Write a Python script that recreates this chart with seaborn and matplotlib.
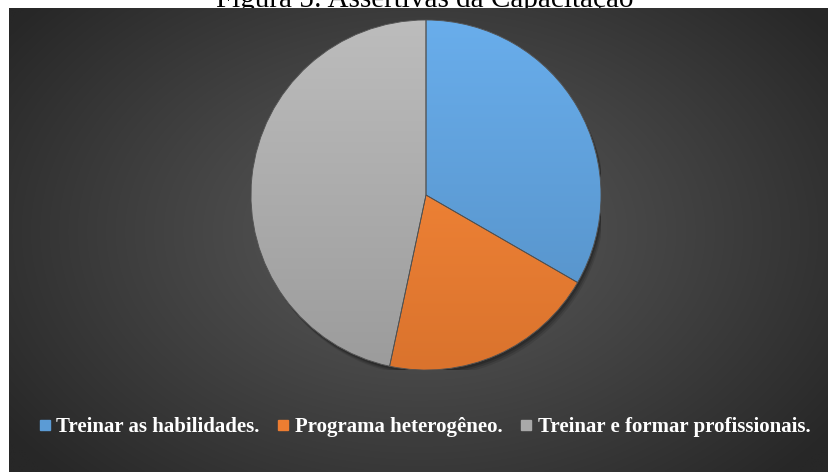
import numpy as np
import matplotlib
matplotlib.use("Agg")
import matplotlib.pyplot as plt
import seaborn as sns
from matplotlib.lines import Line2D
from matplotlib.patches import Circle, Wedge

# ---- data ----
categories = ["Treinar as habilidades.", "Programa heterogêneo.", "Treinar e formar profissionais."]
values = [5, 3, 7]
title = "Figura 5: Assertivas da Capacitação"

sns.set_style("white")
colors = sns.color_palette(["#5B9BD5", "#ED7D31", "#A9A9A9"])

W, H = 829, 472
fig = plt.figure(figsize=(W / 100, H / 100), dpi=100)
fig.patch.set_facecolor("white")

# title (partially hidden behind panel, like the reference)
fig.text(425 / W, 1 - 7 / H, title, ha="center", va="baseline",
         fontsize=21, family="Liberation Serif", color="black", zorder=-1)

# dark radial-gradient panel
bg = fig.add_axes([9 / W, 0, 1 - 9 / W, 1 - 8 / H])
bg.set_axis_off()
ny, nx = 200, 360
yy, xx = np.mgrid[0:ny, 0:nx]
cx, cy = nx * 0.5, ny * 0.48
r = np.sqrt(((xx - cx) / (nx * 0.62)) ** 2 + ((yy - cy) / (ny * 0.75)) ** 2)
r = np.clip(r, 0, 1)
inner, outer = 0x5a / 255, 0x27 / 255
val = inner + (outer - inner) * r ** 1.1
img = np.dstack([val, val, val])
bg.imshow(img, extent=[0, 1, 0, 1], aspect="auto", interpolation="bilinear")
bg.set_xlim(0, 1)
bg.set_ylim(0, 1)

# pie axes
cxp, cyp, rad = 426, 195, 175
ax = fig.add_axes([(cxp - rad) / W, 1 - (cyp + rad) / H, 2 * rad / W, 2 * rad / H])
ax.set_axis_off()
ax.patch.set_alpha(0)

# soft shadow
for off, a in [(0.035, 0.10), (0.025, 0.15), (0.015, 0.2)]:
    ax.add_patch(Circle((off * 0.6, -off), 1.0, color="black", alpha=a, lw=0, zorder=0))

wedges, _ = ax.pie(values, colors=colors, startangle=90, counterclock=False,
                   wedgeprops=dict(linewidth=0.6, edgecolor="#505050"))
for w in wedges:
    w.set_zorder(1)

# vertical gradient inside each wedge (lighter top, darker bottom)
grad = np.linspace(1, 0, 256)[:, None]
for w, c in zip(wedges, colors):
    c = np.array(c)
    top = np.clip(c * 1.07 + 0.03, 0, 1)
    bot = np.clip(c * 0.92, 0, 1)
    g = bot + (top - bot) * grad[..., None]
    g = np.repeat(g, 2, axis=1)
    im = ax.imshow(g, extent=[-1, 1, -1, 1], aspect="auto", zorder=2, interpolation="bilinear")
    im.set_clip_path(w)
    ax.add_patch(Wedge(w.center, w.r, w.theta1, w.theta2,
                       fill=False, edgecolor="#505050", lw=0.6, zorder=3))

ax.set_xlim(-1.0, 1.0)
ax.set_ylim(-1.0, 1.0)
ax.set_aspect("auto")

# legend
handles = [Line2D([0], [0], marker="s", linestyle="none", markersize=7.5,
                  markerfacecolor=c, markeredgecolor=c) for c in colors]
leg = fig.legend(handles, categories, ncol=3, loc="center",
                 bbox_to_anchor=(425 / W, 1 - 427 / H), frameon=False,
                 prop={"family": "Liberation Serif", "weight": "bold", "size": 15},
                 handlelength=0.5, handletextpad=0.3, columnspacing=0.9)
for t in leg.get_texts():
    t.set_color("white")

fig.savefig("out.png", dpi=100)
